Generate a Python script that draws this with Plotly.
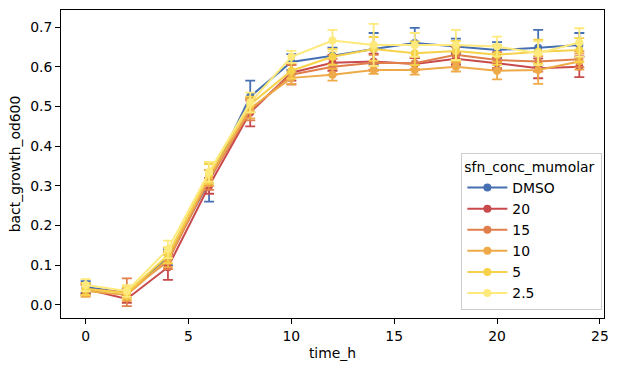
import plotly.graph_objects as go

time_h = [0, 2, 4, 6, 8, 10, 12, 14, 16, 18, 20, 22, 24]
series_names = ["DMSO", "20", "15", "10", "5", "2.5"]
colors = ["#4670b2", "#c84a4c", "#e07f4c", "#eeaa48", "#f6d24a", "#fde97c"]

od_dmso = [0.045, 0.030, 0.120, 0.310, 0.525, 0.612, 0.628, 0.645, 0.660, 0.651, 0.642, 0.648, 0.655]
od_20   = [0.040, 0.015, 0.095, 0.300, 0.485, 0.585, 0.610, 0.613, 0.607, 0.620, 0.609, 0.596, 0.600]
od_15   = [0.040, 0.032, 0.110, 0.315, 0.490, 0.580, 0.600, 0.610, 0.609, 0.630, 0.617, 0.613, 0.619]
od_10   = [0.035, 0.025, 0.115, 0.320, 0.495, 0.572, 0.580, 0.592, 0.592, 0.600, 0.590, 0.592, 0.613]
od_5    = [0.040, 0.030, 0.125, 0.330, 0.505, 0.590, 0.625, 0.645, 0.634, 0.640, 0.630, 0.638, 0.642]
od_2_5  = [0.050, 0.035, 0.140, 0.335, 0.510, 0.625, 0.666, 0.655, 0.655, 0.655, 0.651, 0.634, 0.661]

err_dmso = [0.015, 0.010, 0.020, 0.050, 0.040, 0.020, 0.020, 0.040, 0.038, 0.020, 0.020, 0.045, 0.030]
err_20   = [0.012, 0.010, 0.032, 0.020, 0.035, 0.020, 0.020, 0.020, 0.015, 0.015, 0.015, 0.025, 0.026]
err_15   = [0.015, 0.035, 0.020, 0.025, 0.025, 0.025, 0.020, 0.020, 0.015, 0.020, 0.020, 0.025, 0.020]
err_10   = [0.015, 0.015, 0.020, 0.020, 0.025, 0.015, 0.015, 0.010, 0.012, 0.012, 0.022, 0.035, 0.020]
err_5    = [0.015, 0.015, 0.020, 0.025, 0.020, 0.020, 0.020, 0.030, 0.030, 0.025, 0.025, 0.030, 0.030]
err_2_5  = [0.015, 0.015, 0.022, 0.025, 0.025, 0.015, 0.027, 0.053, 0.030, 0.038, 0.025, 0.030, 0.036]

all_values = [od_dmso, od_20, od_15, od_10, od_5, od_2_5]
all_errors = [err_dmso, err_20, err_15, err_10, err_5, err_2_5]

FONT = "DejaVu Sans"
FS = 13.9
fig = go.Figure()
for name, c, vals, errs in zip(series_names, colors, all_values, all_errors):
    fig.add_trace(go.Scatter(
        x=time_h, y=vals, name=name, mode="lines+markers",
        line=dict(color=c, width=2),
        marker=dict(color=c, size=8, line=dict(width=0)),
        error_y=dict(type="data", array=errs, visible=True, color=c,
                     thickness=1.8, width=5),
    ))

axis_common = dict(
    showline=True, linecolor="black", linewidth=1, mirror=True,
    ticks="outside", ticklen=5, tickwidth=1, tickcolor="black",
    showgrid=False, zeroline=False, automargin=False,
    tickfont=dict(family=FONT, size=FS, color="black"),
)
fig.update_layout(
    width=618, height=371,
    margin=dict(l=61, r=14, t=10, b=53),
    paper_bgcolor="white", plot_bgcolor="white",
    font=dict(family=FONT, size=FS, color="black"),
    xaxis=dict(range=[-1.2, 25.2], tickvals=[0, 5, 10, 15, 20, 25],
               title=dict(text="time_h", font=dict(family=FONT, size=FS), standoff=5),
               **axis_common),
    yaxis=dict(range=[-0.033, 0.743], tickvals=[0, 0.1, 0.2, 0.3, 0.4, 0.5, 0.6, 0.7],
               tickformat=".1f",
               title=dict(text="bact_growth_od600", font=dict(family=FONT, size=FS), standoff=6),
               **axis_common),
    legend=dict(
        title=dict(text="sfn_conc_mumolar ", font=dict(family=FONT, size=FS)),
        x=0.997, y=0.026, xanchor="right", yanchor="bottom",
        bgcolor="rgba(255,255,255,0.8)", bordercolor="#cccccc", borderwidth=1,
        font=dict(family=FONT, size=FS), tracegroupgap=0, itemwidth=40,
    ),
)
fig.write_html("out.html", config={"displayModeBar": False},
               post_script="document.body.style.margin='0px';")
